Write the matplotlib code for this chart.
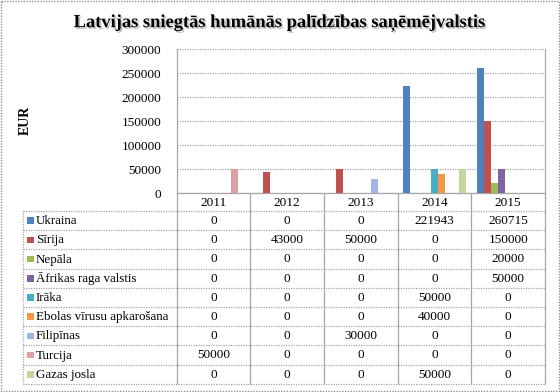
import matplotlib
matplotlib.use("Agg")
import matplotlib.pyplot as plt
import matplotlib.patheffects as pe
from matplotlib.patches import Rectangle
import numpy as np

years = ["2011", "2012", "2013", "2014", "2015"]
series_names = ["Ukraina", "Sīrija", "Nepāla", "Āfrikas raga valstis", "Irāka",
                "Ebolas vīrusu apkarošana", "Filipīnas", "Turcija", "Gazas josla"]
ukraina = [0, 0, 0, 221943, 260715]
sirija = [0, 43000, 50000, 0, 150000]
nepala = [0, 0, 0, 0, 20000]
afrikas = [0, 0, 0, 0, 50000]
iraka = [0, 0, 0, 50000, 0]
ebolas = [0, 0, 0, 40000, 0]
filipinas = [0, 0, 30000, 0, 0]
turcija = [50000, 0, 0, 0, 0]
gazas = [0, 0, 0, 50000, 0]
values = [ukraina, sirija, nepala, afrikas, iraka, ebolas, filipinas, turcija, gazas]
colors = ["#4F81BD", "#C0504D", "#9BBB59", "#8064A2", "#4BACC6",
          "#F79646", "#A3B4E2", "#E0A0A0", "#C3D69B"]
yticks = [0, 50000, 100000, 150000, 200000, 250000, 300000]

W, H = 560, 392
fig = plt.figure(figsize=(W / 100, H / 100), dpi=100)
fig.patch.set_facecolor("white")
serif = ["Liberation Serif", "DejaVu Serif"]
gray = "#A6A6A6"

# geometry (pixels)
x0, x1 = 176.7, 545.0
ytop, ybot = 49.0, 193.0
tleft = 23.3
hdr_bot = 211.0
row_h = 19.2

# table/background axes in pixel coords
tax = fig.add_axes([0, 0, 1, 1], zorder=0)
tax.set_xlim(0, W)
tax.set_ylim(H, 0)
tax.axis("off")

# main chart
ax = fig.add_axes([x0 / W, (H - ybot) / H, (x1 - x0) / W, (ybot - ytop) / H], zorder=2)
ax.patch.set_alpha(0)
n = len(series_names)
bw = 0.095
xs = np.arange(len(years))
for j, (vals, c) in enumerate(zip(values, colors)):
    ax.bar(xs + (j - (n - 1) / 2) * bw, vals, width=bw, color=c, edgecolor="none", zorder=3)
ax.set_xlim(-0.5, len(years) - 0.5)
ax.set_ylim(0, 300000)
ax.set_yticks(yticks)
ax.set_yticklabels([str(v) for v in yticks], fontfamily=serif, fontsize=9.5)
ax.set_xticks([])
ax.tick_params(axis="y", length=0, pad=11)
ax.yaxis.grid(True, color=gray, linestyle=(0, (1, 1)), linewidth=0.9, zorder=0)
ax.set_axisbelow(True)
for s in ["left", "right", "bottom"]:
    ax.spines[s].set_color(gray)
    ax.spines[s].set_linewidth(0.9)
ax.spines["top"].set_visible(False)

# title and axis label
fig.text(280 / W, 1 - 23 / H,
         "Latvijas sniegtās humānās palīdzības saņēmējvalstis",
         ha="center", va="center", fontfamily=serif, fontsize=13.3, fontweight="bold",
         path_effects=[pe.withSimplePatchShadow(offset=(1.2, -1.2), shadow_rgbFace="#808080", alpha=0.5)])
fig.text(25 / W, 1 - 120 / H, "EUR", rotation=90, ha="center", va="center",
         fontfamily=serif, fontsize=10, fontweight="bold")

# table
cw = (x1 - x0) / len(years)
col_edges = [x0 + i * cw for i in range(len(years) + 1)]
tbot = hdr_bot + row_h * n
for xe in col_edges:
    tax.plot([xe, xe], [ybot, tbot], color=gray, lw=0.9, solid_capstyle="butt")
tax.plot([tleft, tleft], [hdr_bot, tbot], color=gray, lw=0.9, linestyle=(0, (1, 1)))
for k in range(n + 1):
    yy = hdr_bot + k * row_h
    tax.plot([tleft, x1], [yy, yy], color=gray, lw=0.9, linestyle=(0, (1, 1)))
for i, yr in enumerate(years):
    tax.text(x0 + (i + 0.5) * cw, (ybot + hdr_bot) / 2 + 0.5, yr, ha="center", va="center",
             fontfamily=serif, fontsize=9.5)
for k, (name, vals, c) in enumerate(zip(series_names, values, colors)):
    yc = hdr_bot + (k + 0.5) * row_h
    tax.add_patch(Rectangle((27, yc - 3.2), 6.5, 6.5, facecolor=c, edgecolor="none"))
    tax.text(36, yc + 0.5, name, ha="left", va="center", fontfamily=serif, fontsize=9.4)
    for i, v in enumerate(vals):
        tax.text(x0 + (i + 0.5) * cw, yc + 0.5, str(v), ha="center", va="center",
                 fontfamily=serif, fontsize=9.5)

# outer border
tax.add_patch(Rectangle((0.7, 0.7), W - 1.4, H - 1.4, fill=False, edgecolor="#909090",
                        lw=1.0, linestyle=(0, (1, 1))))

fig.savefig("out.png", dpi=100)
